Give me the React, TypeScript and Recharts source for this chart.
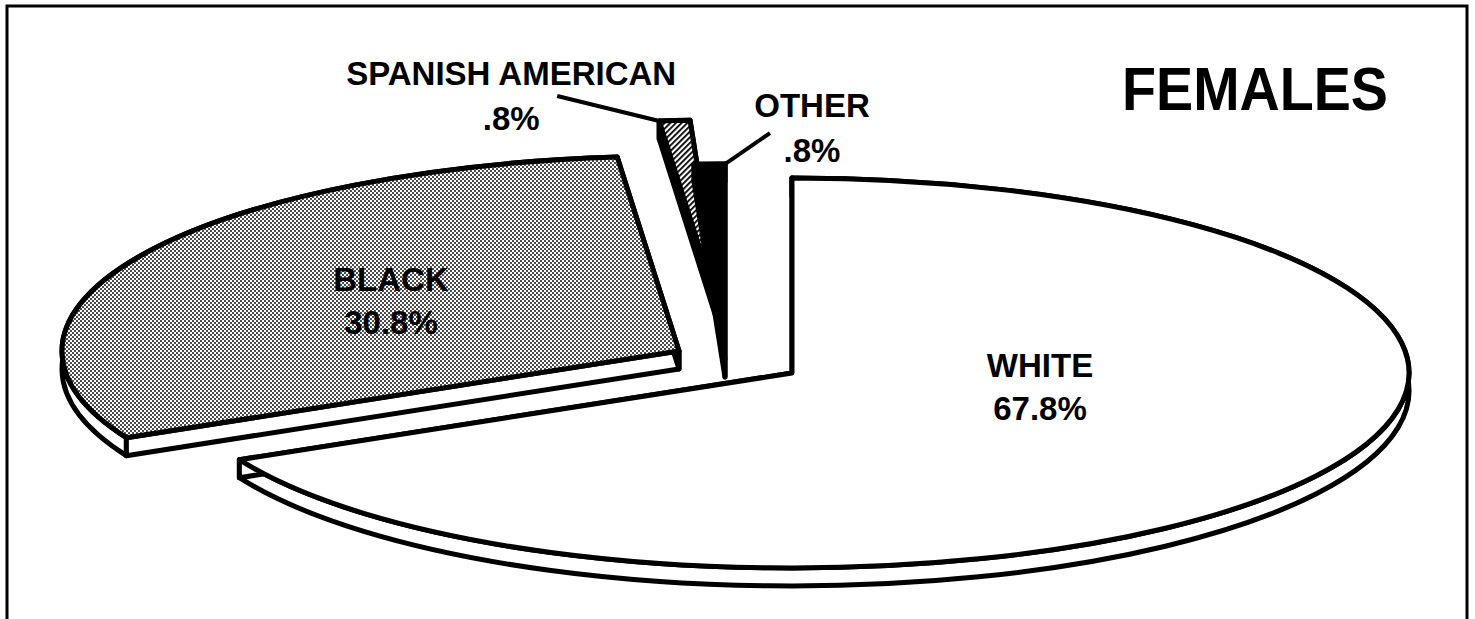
import React from "react";
import { PieChart, Pie } from "recharts";

// shares of the female group, in percent, clockwise from 12 o'clock
const GROUPS = ["White", "Black", "Spanish American", "Other"];
const SHARES = [67.8, 30.8, 0.8, 0.8];
const TITLE = "FEMALES";

const data = GROUPS.map((name, i) => ({ name, value: SHARES[i] }));

const W = 1475;
const H = 619;
const CX = 734;
const CY = 362;
const R = 617;
const TILT = 0.316; // vertical squash of the disc
const DEPTH = 18; // slab thickness
const INK = "#000";
const FONT = "'Liberation Sans', Arial, Helvetica, sans-serif";
const RAD = Math.PI / 180;

// look of each slice: top fill, side fill, explode offset
const LOOK: Record<string, { top: string; side: string; shift: [number, number] }> = {
  White: { top: "#fff", side: "#fff", shift: [58, 11] },
  Black: { top: "url(#stipple)", side: "#fff", shift: [-55, -11] },
  "Spanish American": { top: "url(#hatch)", side: INK, shift: [-13, -47] },
  Other: { top: INK, side: INK, shift: [-9, -3] },
};

// label placement, relative to the slice centre or to an outer corner
const LABELS: Record<string, { at: "center" | "start" | "end"; dx: number; dy: number; lead?: [number, number] }> = {
  White: { at: "center", dx: 248, dy: 13 },
  Black: { at: "center", dx: -288, dy: -51 },
  "Spanish American": { at: "start", dx: -148, dy: -36, lead: [-102, -25] },
  Other: { at: "end", dx: 87, dy: -47, lead: [45, -31] },
};

const pct = (v: number) => v.toFixed(1).replace(/^0/, "") + "%";

const textStyle = {
  fontFamily: FONT,
  fontWeight: 700,
  fontSize: 33,
  fill: INK,
};

function Slice(props: any) {
  const { cx, cy, outerRadius, startAngle, endAngle, payload, value } = props;
  const name: string = payload.name;
  const look = LOOK[name];
  const ox = cx + look.shift[0];
  const oy = cy + look.shift[1];
  const ry = outerRadius * TILT;
  const pt = (a: number): [number, number] => [
    ox + outerRadius * Math.cos(a * RAD),
    oy - ry * Math.sin(a * RAD),
  ];
  const large = Math.abs(endAngle - startAngle) > 180 ? 1 : 0;
  const sweep = endAngle < startAngle ? 1 : 0;
  const [sx, sy] = pt(startAngle);
  const [ex, ey] = pt(endAngle);

  const top = `M${ox},${oy}L${sx},${sy}A${outerRadius},${ry} 0 ${large} ${sweep} ${ex},${ey}Z`;
  const band =
    `M${sx},${sy}A${outerRadius},${ry} 0 ${large} ${sweep} ${ex},${ey}` +
    `L${ex},${ey + DEPTH}A${outerRadius},${ry} 0 ${large} ${1 - sweep} ${sx},${sy + DEPTH}Z`;
  const face = (x: number, y: number) =>
    `M${ox},${oy}L${x},${y}L${x},${y + DEPTH}L${ox},${oy + DEPTH}Z`;

  const edge = { stroke: INK, strokeWidth: 5, strokeLinejoin: "round" as const };
  const lab = LABELS[name];
  let text: React.ReactNode = null;
  if (lab.at === "center") {
    const tx = ox + lab.dx;
    const ty = oy + lab.dy;
    text = (
      <g>
        <text x={tx} y={ty - 9} textAnchor="middle" style={textStyle}>
          {name.toUpperCase()}
        </text>
        <text x={tx} y={ty + 34} textAnchor="middle" style={textStyle}>
          {pct(value)}
        </text>
      </g>
    );
  } else {
    const [px, py] = lab.at === "start" ? [sx, sy] : [ex, ey];
    const tx = px + lab.dx;
    const ty = py + lab.dy;
    const lead = lab.lead ?? [0, 0];
    text = (
      <g>
        <line x1={px + lead[0]} y1={py + lead[1]} x2={px} y2={py} stroke={INK} strokeWidth={4} />
        <text x={tx} y={ty} textAnchor="middle" style={textStyle}>
          {name.toUpperCase()}
        </text>
        <text x={tx} y={ty + 45} textAnchor="middle" style={textStyle}>
          {pct(value)}
        </text>
      </g>
    );
  }

  return (
    <g>
      <path d={band} fill={look.side} {...edge} />
      <path d={face(sx, sy)} fill={look.side} {...edge} />
      <path d={face(ex, ey)} fill={look.side} {...edge} />
      <path d={top} fill={look.top} {...edge} />
      {text}
    </g>
  );
}

export default function App() {
  return (
    <div style={{ position: "absolute", left: 0, top: 0, width: W, height: H, background: "#fff" }}>
      <svg width={W} height={H} style={{ position: "absolute", left: 0, top: 0 }}>
        <defs>
          <pattern id="stipple" width="4" height="4" patternUnits="userSpaceOnUse">
            <rect width="4" height="4" fill="#fff" />
            <circle cx="1" cy="1" r="0.95" fill={INK} />
            <circle cx="3" cy="3" r="0.95" fill={INK} />
          </pattern>
          <pattern
            id="hatch"
            width="4"
            height="4"
            patternUnits="userSpaceOnUse"
            patternTransform="rotate(-45)"
          >
            <rect width="4" height="4" fill="#fff" />
            <rect width="4" height="1.8" fill={INK} />
          </pattern>
        </defs>
        <rect x={7} y={6} width={1460} height={700} fill="none" stroke={INK} strokeWidth={3} />
        <text
          x={1255}
          y={110}
          textAnchor="middle"
          textLength={266}
          lengthAdjust="spacingAndGlyphs"
          style={{ fontFamily: FONT, fontWeight: 700, fontSize: 62, fill: INK }}
        >
          {TITLE}
        </text>
      </svg>
      <div style={{ position: "absolute", left: 0, top: 0 }}>
        <PieChart width={W} height={H} margin={{ top: 0, right: 0, bottom: 0, left: 0 }}>
          <Pie
            data={data}
            dataKey="value"
            nameKey="name"
            cx={CX}
            cy={CY}
            innerRadius={0}
            outerRadius={R}
            startAngle={90}
            endAngle={-270}
            fill="none"
            stroke="none"
            label={Slice}
            labelLine={false}
            isAnimationActive={false}
          />
        </PieChart>
      </div>
    </div>
  );
}
